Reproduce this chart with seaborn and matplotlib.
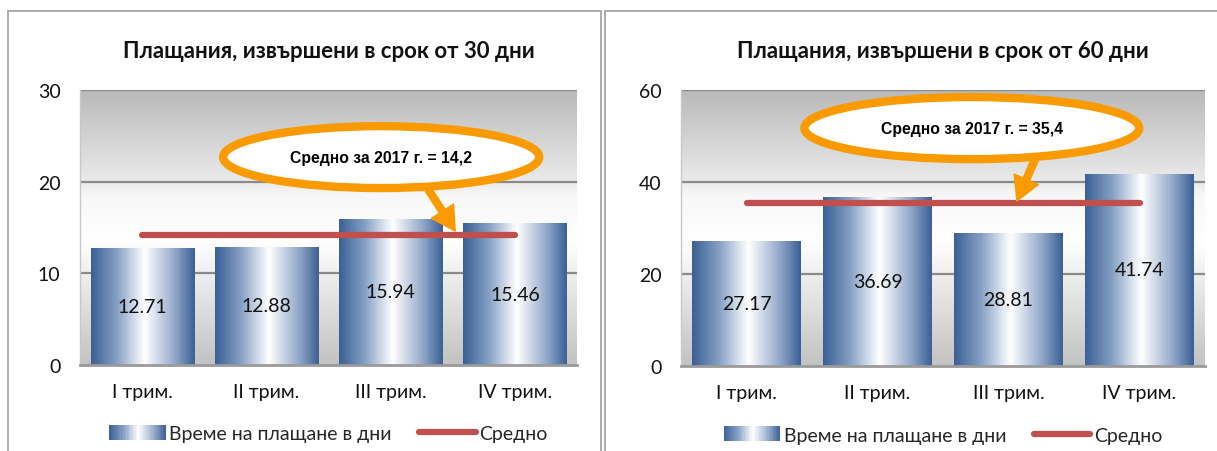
import numpy as np
import matplotlib
matplotlib.use("Agg")
import matplotlib.pyplot as plt
import seaborn as sns
from matplotlib.colors import LinearSegmentedColormap
from matplotlib.patches import Ellipse, Rectangle
from matplotlib.lines import Line2D
from matplotlib.legend_handler import HandlerBase

# ---------------- data ----------------
quarters = ["I трим.", "II трим.", "III трим.", "IV трим."]
days30 = [12.71, 12.88, 15.94, 15.46]
days60 = [27.17, 36.69, 28.81, 41.74]
avg30 = [14.2, 14.2, 14.2, 14.2]
avg60 = [35.4, 35.4, 35.4, 35.4]
title30 = "Плащания, извършени в срок от 30 дни"
title60 = "Плащания, извършени в срок от 60 дни"
note30 = "Средно за 2017 г. = 14,2"
note60 = "Средно за 2017 г. = 35,4"
yticks30 = [0, 10, 20, 30]
yticks60 = [0, 20, 40, 60]
legend_bar = "Време на плащане в дни"
legend_avg = "Средно"

# ---------------- style ----------------
sns.set_style("white")
MAIN_FONT = ["Lato", "Noto Sans", "DejaVu Sans"]
NOTE_FONT = ["Liberation Sans", "DejaVu Sans"]
plt.rcParams["font.family"] = MAIN_FONT

BLUE = "#3a6095"
bar_cmap = LinearSegmentedColormap.from_list(
    "bar", [(0.0, "#3a6095"), (0.25, "#86a0c4"), (0.45, "#e2e9f2"),
            (0.52, "#ffffff"), (0.62, "#d9e1ec"), (0.8, "#95aacb"), (1.0, "#3a6095")])
bg_cmap = LinearSegmentedColormap.from_list(
    "bg", [(0.0, "#c2c2c2"), (0.45, "#ffffff"), (0.62, "#f7f7f7"),
           (0.66, "#ececec"), (1.0, "#b9b9b9")])
RED = "#c0504d"
ORANGE = "#f99b00"
GRID = "#8a8a8a"


class GradientHandler(HandlerBase):
    def create_artists(self, legend, orig_handle, xdescent, ydescent,
                       width, height, fontsize, trans):
        n = 40
        arts = []
        for i in range(n):
            r = Rectangle((-xdescent + width * i / n, -ydescent), width / n * 1.05, height,
                          facecolor=bar_cmap((i + 0.5) / n), edgecolor="none",
                          transform=trans)
            arts.append(r)
        return arts


fig = plt.figure(figsize=(12.17, 4.52), dpi=100)
W, H = 1217.0, 452.0

# panel borders
fig.add_artist(Rectangle((8 / W, -0.1), (601 - 8) / W, 1.1 - 12 / H,
                         transform=fig.transFigure, fill=False,
                         edgecolor="#a6a6a6", linewidth=1.3))
fig.add_artist(Rectangle((605 / W, -0.1), 0.6, 1.1 - 12 / H,
                         transform=fig.transFigure, fill=False,
                         edgecolor="#a6a6a6", linewidth=1.3))


def draw_panel(rect, values, avg, yticks, title, note, ell, arrow):
    ax = fig.add_axes(rect)
    sns.barplot(x=quarters, y=values, ax=ax, width=0.83, color=BLUE,
                edgecolor="none", zorder=3)
    ymax = yticks[-1]
    # background gradient
    grad_v = np.linspace(0, 1, 256).reshape(-1, 1)
    ax.imshow(grad_v, extent=[0, 1, 0, 1], transform=ax.transAxes, origin="lower",
              cmap=bg_cmap, aspect="auto", zorder=0)
    # gradient bars
    grad_h = np.linspace(0, 1, 256).reshape(1, -1)
    for p, v in zip(ax.patches, values):
        bb = p.get_bbox()
        p.set_facecolor("none")
        im = ax.imshow(grad_h, extent=[bb.x0, bb.x1, bb.y0, bb.y1], cmap=bar_cmap,
                       aspect="auto", zorder=3)
        im.set_clip_path(p)
        ax.text((bb.x0 + bb.x1) / 2, v / 2, f"{v:.2f}", ha="center", va="center",
                fontsize=14, color="#111111", zorder=4)
    # average line
    xs = np.arange(len(quarters))
    ax.plot(xs, avg, color=RED, linewidth=4.5, solid_capstyle="round", zorder=5,
            label=legend_avg)
    ax.set_xlim(-0.5, len(quarters) - 0.5)
    ax.set_ylim(0, ymax)
    ax.set_yticks(yticks)
    ax.set_yticklabels([str(t) for t in yticks])
    ax.set_xticks(xs)
    ax.set_xticklabels(quarters)
    ax.tick_params(axis="y", length=0, pad=14, labelsize=14, colors="#111111")
    ax.tick_params(axis="x", length=0, pad=13, labelsize=14, colors="#111111")
    ax.set_xlabel("")
    ax.set_ylabel("")
    for t in yticks[1:]:
        ax.axhline(t, color=GRID, linewidth=1.6, zorder=1)
    for s in ["top", "right"]:
        ax.spines[s].set_visible(False)
    ax.spines["left"].set_color("#c8c8c8")
    ax.spines["left"].set_linewidth(1.0)
    ax.spines["bottom"].set_color("#9a9a9a")
    ax.spines["bottom"].set_linewidth(2.0)
    ax.spines["bottom"].set_zorder(6)
    # title
    ax.text(0.5, 1.142, title, transform=ax.transAxes, ha="center", va="center",
            fontsize=16, fontweight="bold", color="#111111")
    # callout ellipse + arrow
    (cx, cy, ew, eh) = ell
    ax.add_patch(Ellipse((cx, cy), ew, eh, transform=ax.transAxes, facecolor="white",
                         edgecolor=ORANGE, linewidth=6, zorder=8))
    ax.text(cx, cy, note, transform=ax.transAxes, ha="center", va="center",
            fontsize=11.3, fontweight="bold", family=NOTE_FONT, color="#000000",
            zorder=9)
    (sx, sy, tx, ty) = arrow
    ax.annotate("", xy=(tx, ty), xycoords="axes fraction", xytext=(sx, sy),
                textcoords="axes fraction",
                arrowprops=dict(width=5, headwidth=19, headlength=17, color=ORANGE,
                                shrink=0.0),
                zorder=7)
    # legend
    handles = [Rectangle((0, 0), 1, 1), Line2D([], [], color=RED, linewidth=4.5,
                                                solid_capstyle="round")]
    ax.legend(handles, [legend_bar, legend_avg], loc="center",
              bbox_to_anchor=(0.5, -0.25), ncol=2, frameon=False,
              fontsize=14, handlelength=2.9, handletextpad=0.2,
              columnspacing=1.4, handleheight=0.8,
              handler_map={Rectangle: GradientHandler()})
    return ax


ax1 = draw_panel([80 / W, 1 - 366 / H, 497 / W, 275 / H], days30, avg30, yticks30,
                 title30, note30, (0.606, 0.756, 0.636, 0.225),
                 (0.700, 0.640, 0.755, 0.487))
ax2 = draw_panel([681 / W, 1 - 367 / H, 524 / W, 276 / H], days60, avg60, yticks60,
                 title60, note60, (0.555, 0.862, 0.639, 0.225),
                 (0.676, 0.750, 0.641, 0.598))

fig.savefig("out.png", dpi=100, facecolor="white")
